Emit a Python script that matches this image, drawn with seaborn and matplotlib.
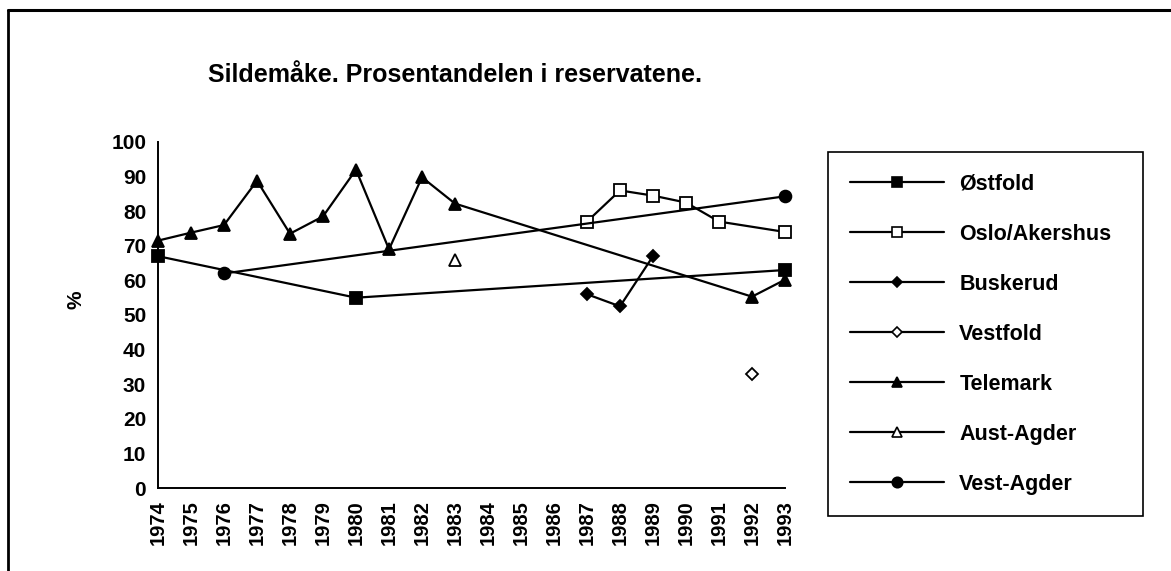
import numpy as np
import pandas as pd
import matplotlib
matplotlib.use("Agg")
import matplotlib.pyplot as plt
from matplotlib.lines import Line2D
import seaborn as sns

years = list(range(1974, 1994))

ostfold_years = [1974, 1980, 1993]
ostfold_vals = [67, 55, 63]

oslo_years = [1987, 1988, 1989, 1990, 1991, 1993]
oslo_vals = [77, 86, 84.5, 82.5, 77, 74]

buskerud_years = [1987, 1988, 1989]
buskerud_vals = [56, 52.5, 67]

vestfold_years = [1992]
vestfold_vals = [33]

telemark_years = [1974, 1975, 1976, 1977, 1978, 1979, 1980, 1981, 1982, 1983, 1992, 1993]
telemark_vals = [71.5, 73.8, 76, 88.8, 73.5, 78.5, 92, 69, 89.8, 82.2, 55.3, 60.2]

aust_years = [1983]
aust_vals = [66]

vest_years = [1976, 1993]
vest_vals = [62, 84.3]

series = [
    ("Østfold", ostfold_years, ostfold_vals, "s", "black", 8.5),
    ("Oslo/Akershus", oslo_years, oslo_vals, "s", "white", 8.5),
    ("Buskerud", buskerud_years, buskerud_vals, "D", "black", 6),
    ("Vestfold", vestfold_years, vestfold_vals, "D", "white", 6.5),
    ("Telemark", telemark_years, telemark_vals, "^", "black", 8.5),
    ("Aust-Agder", aust_years, aust_vals, "^", "white", 8.5),
    ("Vest-Agder", vest_years, vest_vals, "o", "black", 8.5),
]

sns.set_style("white")
plt.rcParams['font.family'] = ['Liberation Sans', 'DejaVu Sans']
plt.rcParams['font.weight'] = 'bold'
plt.rcParams['text.color'] = 'black'
plt.rcParams['xtick.color'] = 'black'
plt.rcParams['ytick.color'] = 'black'
plt.rcParams['axes.labelcolor'] = 'black'

W, H = 1171, 571
fig = plt.figure(figsize=(W / 100, H / 100), dpi=100)
ax = fig.add_axes([158 / W, (H - 488) / H, (785 - 158) / W, (488 - 142) / H])

handles = []
for name, xs, ys, mk, fc, ms in series:
    df = pd.DataFrame({"year": xs, "pct": ys})
    sns.lineplot(data=df, x="year", y="pct", ax=ax, color="black", linewidth=1.6,
                 marker=mk, markersize=ms, markerfacecolor=fc,
                 markeredgecolor="black", markeredgewidth=1.3, clip_on=False)
    handles.append(Line2D([0], [0], color="black", linewidth=1.6, marker=mk,
                          markersize=ms - 1, markerfacecolor=fc,
                          markeredgecolor="black", markeredgewidth=1.2, label=name))

ax.set_xlim(1974, 1993)
ax.set_ylim(0, 100)
ax.set_xticks(years)
ax.set_xticklabels([str(y) for y in years], rotation=90, fontsize=14.5, fontweight="bold")
ax.set_yticks(range(0, 101, 10))
ax.set_yticklabels([str(v) for v in range(0, 101, 10)], fontsize=15, fontweight="bold")
ax.tick_params(axis="both", direction="inout", length=9, width=1.3, color="black", pad=4)
ax.set_xlabel("")
ax.set_ylabel("")
for s in ["top", "right"]:
    ax.spines[s].set_visible(False)
for s in ["left", "bottom"]:
    ax.spines[s].set_color("black")
    ax.spines[s].set_linewidth(1.4)

fig.text(76 / W, 1 - 300 / H, "%", rotation=90, fontsize=15, fontweight="bold",
         ha="center", va="center")
fig.text(455 / W, 1 - 75 / H, "Sildemåke. Prosentandelen i reservatene.",
         fontsize=18, fontweight="bold", ha="center", va="center")

leg = fig.legend(handles=handles, loc="upper left",
                 bbox_to_anchor=(828 / W, 1 - 517 / H, (1143 - 828) / W, (517 - 152) / H),
                 mode="expand", fontsize=15.5, frameon=True, fancybox=False,
                 handlelength=4.4, handletextpad=0.7, labelspacing=1.35,
                 borderpad=1.0, borderaxespad=0)
leg.get_frame().set_edgecolor("black")
leg.get_frame().set_linewidth(1.2)
leg.get_frame().set_alpha(1)

# outer chart frame
fig.add_artist(Line2D([8 / W, 8 / W], [0, 1 - 10 / H], color="black", linewidth=2))
fig.add_artist(Line2D([8 / W, 1], [1 - 10 / H, 1 - 10 / H], color="black", linewidth=2.2))

fig.savefig("out.png", dpi=100)
